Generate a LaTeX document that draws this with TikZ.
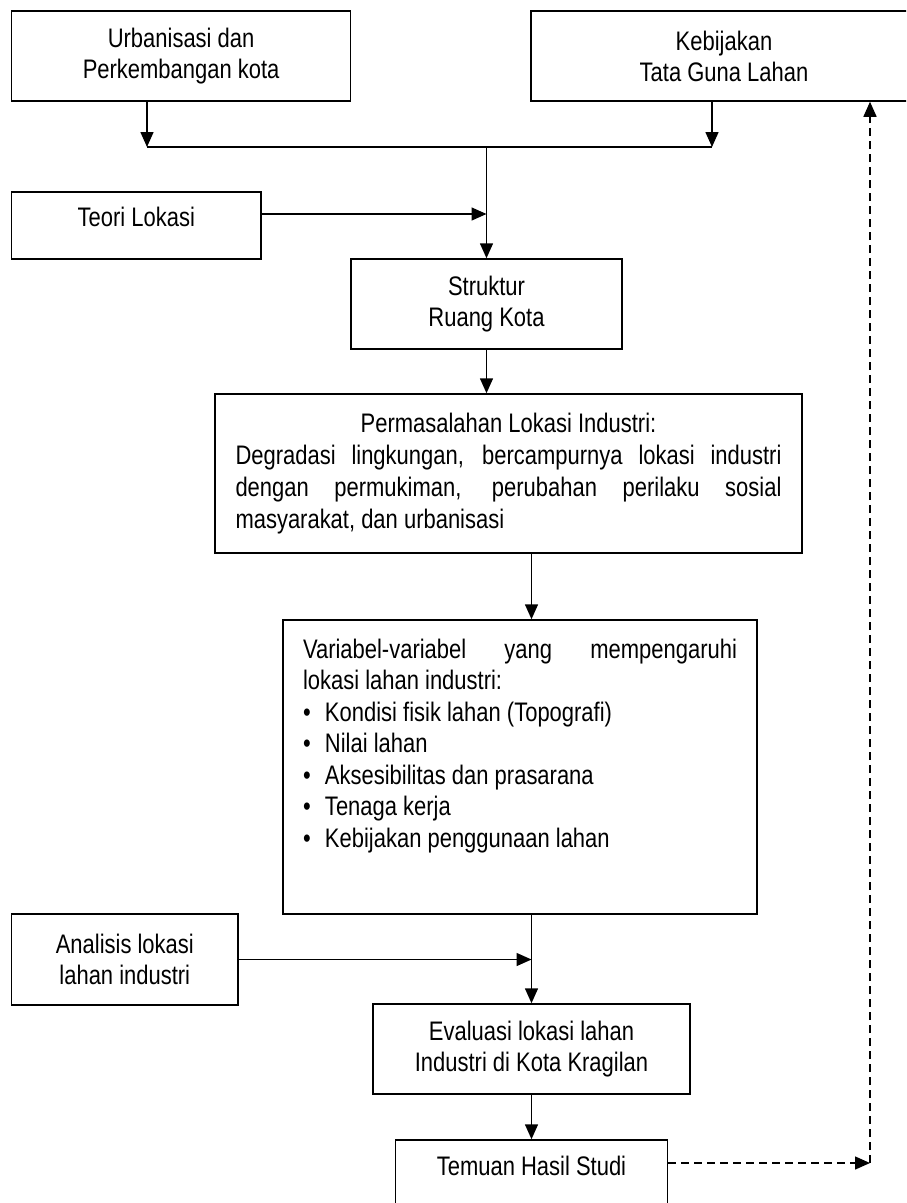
\documentclass[tikz,border=0pt]{standalone}
\usepackage{fontspec}
\setmainfont[FakeStretch=0.82]{Liberation Sans}
\usetikzlibrary{arrows.meta}
\newcommand{\dotitem}{\makebox[22pt][l]{\textbullet}}

\begin{document}
\begin{tikzpicture}[x=1pt,y=1pt,yscale=-1,xscale=1,
  box/.style={draw, line width=1.5pt, inner sep=0pt, align=center, font=\fontsize{26.8}{31}\selectfont},
  link/.style={line width=1.5pt},
  arr/.style={link, -{Triangle[length=15pt,width=13pt]}},
  dsh/.style={arr, dash pattern=on 8pt off 5pt}]
%set diagram left start at 0, and has height of 1203
\useasboundingbox (0,0) rectangle (906,1203);
\clip (0,0) rectangle (906,1203);

%Shape: Rectangle [urban]
\node[box, minimum width=339pt, minimum height=90pt] (urban) at (181.1,56) {Urbanisasi dan\\Perkembangan kota};
%Shape: Rectangle [kebijakan]
\node[box, minimum width=386pt, minimum height=90pt] (kebijakan) at (724,56) {Kebijakan\\Tata Guna Lahan};
%Shape: Rectangle [teori]
\node[box, minimum width=249.5pt, minimum height=67pt] (teori) at (136.3,225.5) {\parbox[c][67pt][t]{249pt}{\centering\vspace*{15pt}Teori Lokasi}};
%Shape: Rectangle [struktur]
\node[box, minimum width=271pt, minimum height=90pt] (struktur) at (486.5,304) {Struktur\\Ruang Kota};
%Shape: Rectangle [masalah]
\node[box, minimum width=587pt, minimum height=159pt] (masalah) at (508.5,473.5) {\parbox[c][159pt][t]{546pt}{\fontsize{26.8}{32}\selectfont\setlength{\parindent}{0pt}\vspace*{19pt}%
  \centering Permasalahan Lokasi Industri:\par
  \makebox[546pt][s]{Degradasi lingkungan, bercampurnya lokasi industri}\par
  \makebox[546pt][s]{dengan permukiman, perubahan perilaku sosial}\par
  \makebox[546pt][l]{masyarakat, dan urbanisasi}}};
%Shape: Rectangle [variabel]
\node[box, minimum width=474pt, minimum height=294pt] (variabel) at (520,767) {\parbox[c][294pt][t]{434pt}{\fontsize{26.8}{31.5}\selectfont\setlength{\parindent}{0pt}\raggedright\vspace*{19pt}%
  \makebox[434pt][s]{Variabel-variabel yang mempengaruhi}\par
  lokasi lahan industri:\par
  \dotitem Kondisi fisik lahan (Topografi)\par
  \dotitem Nilai lahan\par
  \dotitem Aksesibilitas dan prasarana\par
  \dotitem Tenaga kerja\par
  \dotitem Kebijakan penggunaan lahan}};
%Shape: Rectangle [analisis]
\node[box, minimum width=226.4pt, minimum height=91pt] (analisis) at (124.8,959.5) {Analisis lokasi\\lahan industri};
%Shape: Rectangle [evaluasi]
\node[box, minimum width=317pt, minimum height=90pt] (evaluasi) at (531.5,1049) {Evaluasi lokasi lahan\\Industri di Kota Kragilan};
%Shape: Rectangle [temuan]
\node[box, minimum width=272pt, minimum height=100pt] (temuan) at (531.5,1190) {\parbox[c][100pt][t]{272pt}{\centering\vspace*{16pt}Temuan Hasil Studi}};

%Joints
\coordinate (jL) at (147,147);
\coordinate (jR) at (712,147);
\coordinate (jM) at (486.5,147);
\coordinate (tJ) at (486.5,214);
\coordinate (aJ) at (531.5,959.5);
\coordinate (fb) at (870,1163);

%Straight Lines
\draw[arr] (urban.south -| jL) -- (jL);
\draw[arr] (kebijakan.south -| jR) -- (jR);
\draw[link] (jL) -- (jR);
\draw[arr] (jM) -- (struktur.north);
\draw[arr] (teori.east |- tJ) -- (tJ);
\draw[arr] (struktur.south) -- (struktur.south |- masalah.north);
\draw[arr] (masalah.south -| evaluasi.north) -- (variabel.north -| evaluasi.north);
\draw[arr] (variabel.south -| evaluasi.north) -- (evaluasi.north);
\draw[arr] (analisis.east) -- (aJ);
\draw[arr] (evaluasi.south) -- (temuan.north);
%Dashed Lines
\draw[dsh] (temuan.east |- fb) -- (fb);
\draw[dsh] (fb) -- (kebijakan.south -| fb);

\end{tikzpicture}
\end{document}
